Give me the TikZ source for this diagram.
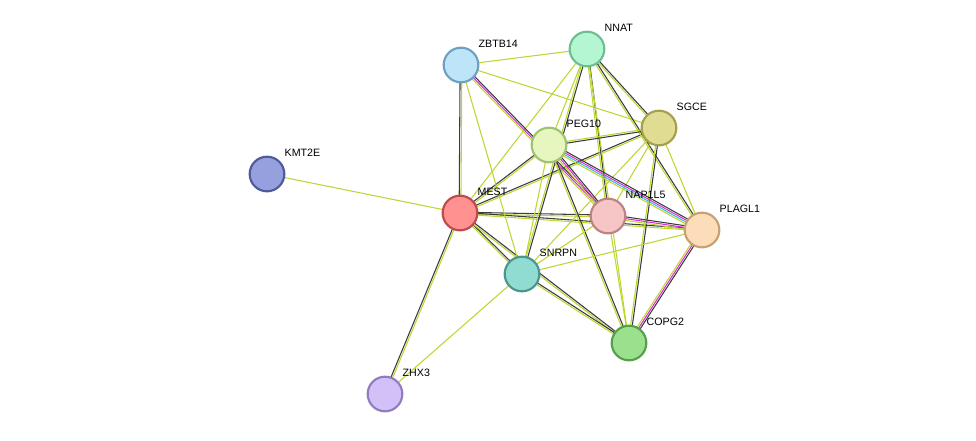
\documentclass[tikz,border=0pt]{standalone}
\usepackage{fontspec}
\setmainfont{Liberation Sans}
\usetikzlibrary{calc}
\definecolor{tmine}{RGB}{190,214,50}
\definecolor{coexp}{RGB}{60,60,60}
\definecolor{expmt}{RGB}{220,50,220}
\definecolor{dbase}{RGB}{60,190,220}
% one line per evidence channel, side by side
\newcommand\lnk[4]{%
  \foreach \c [count=\i] in {#4} {%
    \pgfmathsetmacro\o{(\i-1)*1.3-(#3-1)*0.65}
    \draw[\c,line width=0.8pt] ($(#1)!\o pt!90:(#2)$) -- ($(#2)!\o pt!-90:(#1)$);
  }}
\begin{document}
\begin{tikzpicture}[x=0.75pt,y=-0.75pt]
\tikzset{prot/.style={circle,minimum size=26pt,line width=1.6pt,inner sep=0pt},
  lbl/.style={font=\fontsize{8}{9}\selectfont}}
\useasboundingbox (0,0) rectangle (976,440);
\coordinate (ZBTB14) at (461,65);
\coordinate (NNAT) at (587,49);
\coordinate (SGCE) at (659,128);
\coordinate (PEG10) at (549,145);
\coordinate (KMT2E) at (267,174);
\coordinate (MEST) at (460,213);
\coordinate (NAP1L5) at (608,216);
\coordinate (PLAGL1) at (702,230);
\coordinate (SNRPN) at (522,274);
\coordinate (COPG2) at (629,343);
\coordinate (ZHX3) at (385,394);

\lnk{KMT2E}{MEST}{1}{tmine}
\lnk{ZHX3}{MEST}{2}{tmine,coexp}
\lnk{ZHX3}{SNRPN}{1}{tmine}
\lnk{MEST}{ZBTB14}{2}{tmine,coexp}
\lnk{MEST}{NNAT}{1}{tmine}
\lnk{MEST}{PEG10}{2}{tmine,coexp}
\lnk{MEST}{SGCE}{2}{tmine,coexp}
\lnk{MEST}{NAP1L5}{2}{tmine,coexp}
\lnk{MEST}{PLAGL1}{2}{tmine,coexp}
\lnk{MEST}{SNRPN}{2}{tmine,coexp}
\lnk{MEST}{COPG2}{2}{tmine,coexp}
\lnk{ZBTB14}{NNAT}{1}{tmine}
\lnk{ZBTB14}{SGCE}{1}{tmine}
\lnk{ZBTB14}{NAP1L5}{3}{tmine,expmt,coexp}
\lnk{ZBTB14}{SNRPN}{1}{tmine}
\lnk{NNAT}{PEG10}{1}{tmine}
\lnk{NNAT}{SGCE}{2}{tmine,coexp}
\lnk{NNAT}{NAP1L5}{2}{tmine,coexp}
\lnk{NNAT}{PLAGL1}{2}{tmine,coexp}
\lnk{NNAT}{SNRPN}{2}{tmine,coexp}
\lnk{NNAT}{COPG2}{1}{tmine}
\lnk{SGCE}{PEG10}{2}{tmine,coexp}
\lnk{SGCE}{NAP1L5}{1}{tmine}
\lnk{SGCE}{PLAGL1}{1}{tmine}
\lnk{SGCE}{SNRPN}{1}{tmine}
\lnk{SGCE}{COPG2}{2}{tmine,coexp}
\lnk{PEG10}{NAP1L5}{3}{tmine,expmt,coexp}
\lnk{PEG10}{PLAGL1}{4}{tmine,dbase,expmt,coexp}
\lnk{PEG10}{SNRPN}{1}{tmine}
\lnk{PEG10}{COPG2}{2}{tmine,coexp}
\lnk{NAP1L5}{PLAGL1}{3}{tmine,expmt,coexp}
\lnk{NAP1L5}{SNRPN}{1}{tmine}
\lnk{NAP1L5}{COPG2}{1}{tmine}
\lnk{PLAGL1}{SNRPN}{1}{tmine}
\lnk{PLAGL1}{COPG2}{3}{tmine,expmt,coexp}
\lnk{SNRPN}{COPG2}{2}{tmine,coexp}

\node[prot,fill={rgb,255:red,190;green,228;blue,248},draw={rgb,255:red,110;green,160;blue,195}] (nZBTB14) at (ZBTB14) {};
\node[prot,fill={rgb,255:red,180;green,246;blue,210},draw={rgb,255:red,110;green,190;blue,145}] (nNNAT) at (NNAT) {};
\node[prot,fill={rgb,255:red,224;green,220;blue,145},draw={rgb,255:red,165;green,160;blue,80}] (nSGCE) at (SGCE) {};
\node[prot,fill={rgb,255:red,230;green,246;blue,190},draw={rgb,255:red,160;green,195;blue,110}] (nPEG10) at (PEG10) {};
\node[prot,fill={rgb,255:red,150;green,160;blue,222},draw={rgb,255:red,80;green,90;blue,155}] (nKMT2E) at (KMT2E) {};
\node[prot,fill={rgb,255:red,255;green,145;blue,145},draw={rgb,255:red,190;green,75;blue,75}] (nMEST) at (MEST) {};
\node[prot,fill={rgb,255:red,246;green,198;blue,198},draw={rgb,255:red,190;green,130;blue,130}] (nNAP1L5) at (NAP1L5) {};
\node[prot,fill={rgb,255:red,252;green,220;blue,185},draw={rgb,255:red,200;green,160;blue,115}] (nPLAGL1) at (PLAGL1) {};
\node[prot,fill={rgb,255:red,145;green,220;blue,210},draw={rgb,255:red,75;green,150;blue,140}] (nSNRPN) at (SNRPN) {};
\node[prot,fill={rgb,255:red,155;green,224;blue,140},draw={rgb,255:red,85;green,160;blue,75}] (nCOPG2) at (COPG2) {};
\node[prot,fill={rgb,255:red,210;green,192;blue,248},draw={rgb,255:red,145;green,125;blue,190}] (nZHX3) at (ZHX3) {};

\node[lbl,anchor=south west] at ($(ZBTB14)+(13,-13)$) {ZBTB14};
\node[lbl,anchor=south west] at ($(NNAT)+(13,-13)$) {NNAT};
\node[lbl,anchor=south west] at ($(SGCE)+(13,-13)$) {SGCE};
\node[lbl,anchor=south west] at ($(PEG10)+(13,-13)$) {PEG10};
\node[lbl,anchor=south west] at ($(KMT2E)+(13,-13)$) {KMT2E};
\node[lbl,anchor=south west] at ($(MEST)+(13,-13)$) {MEST};
\node[lbl,anchor=south west] at ($(NAP1L5)+(13,-13)$) {NAP1L5};
\node[lbl,anchor=south west] at ($(PLAGL1)+(13,-13)$) {PLAGL1};
\node[lbl,anchor=south west] at ($(SNRPN)+(13,-13)$) {SNRPN};
\node[lbl,anchor=south west] at ($(COPG2)+(13,-13)$) {COPG2};
\node[lbl,anchor=south west] at ($(ZHX3)+(13,-13)$) {ZHX3};
\end{tikzpicture}
\end{document}
